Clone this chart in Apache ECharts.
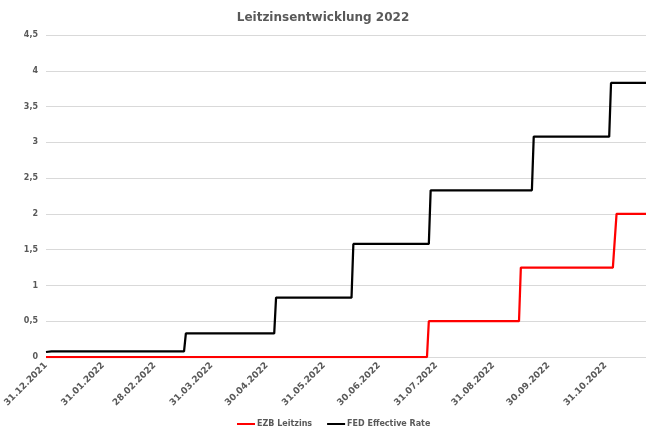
<!DOCTYPE html>
<html>
<head>
<meta charset="utf-8">
<script src="https://cdn.jsdelivr.net/npm/echarts@6/dist/echarts.min.js"></script>
<style>
  html, body { margin: 0; padding: 0; background: #fff; }
  #chart { width: 646px; height: 428px; }
</style>
</head>
<body>
<div id="chart"></div>
<script>
// Leitzinsen 2022 - Stufen als Punktpaare (Tag vor / Tag nach der Änderung)
var fedDates = ['2021-12-31', '2022-01-03', '2022-03-16', '2022-03-17', '2022-05-04', '2022-05-05',
                '2022-06-15', '2022-06-16', '2022-07-27', '2022-07-28', '2022-09-21', '2022-09-22',
                '2022-11-02', '2022-11-03', '2022-11-22'];
var fedValues = [0.07, 0.08, 0.08, 0.33, 0.33, 0.83, 0.83, 1.58, 1.58, 2.33, 2.33, 3.08, 3.08, 3.83, 3.83];

var ezbDates = ['2021-12-31', '2022-07-26', '2022-07-27', '2022-09-14', '2022-09-15',
                '2022-11-04', '2022-11-06', '2022-11-22'];
var ezbValues = [0, 0, 0.5, 0.5, 1.25, 1.25, 2, 2];

var tickDates = ['2021-12-31', '2022-01-31', '2022-02-28', '2022-03-31', '2022-04-30', '2022-05-31',
                 '2022-06-30', '2022-07-31', '2022-08-31', '2022-09-30', '2022-10-31'];

var axisStart = '2021-12-31';
var axisEnd = '2022-11-22';

function toTime(s) {
    var p = s.split('-');
    return new Date(+p[0], +p[1] - 1, +p[2]).getTime();
}
function pairs(dates, values) {
    return dates.map(function (d, i) { return [toTime(d), values[i]]; });
}
function pad(n) { return n < 10 ? '0' + n : '' + n; }

var grey = '#595959';
var myChart = echarts.init(document.getElementById('chart'));

var option = {
    animation: false,
    title: {
        text: 'Leitzinsentwicklung 2022',
        left: 'center',
        top: 7,
        textStyle: {
            fontFamily: 'DejaVu Sans',
            fontSize: 12,
            fontWeight: 'bold',
            color: grey
        }
    },
    grid: {
        left: 46,
        right: 0,
        top: 35,
        bottom: 71,
        containLabel: false
    },
    legend: {
        top: 415,
        left: 232,
        itemWidth: 18,
        itemHeight: 10,
        itemGap: 15,
        icon: 'path://M0,4 L18,4 L18,6 L0,6 Z',
        textStyle: {
            fontFamily: 'DejaVu Sans',
            fontSize: 8,
            fontWeight: 'bold',
            color: grey,
            padding: [0, 0, 0, -3]
        },
        data: ['EZB Leitzins', 'FED Effective Rate']
    },
    xAxis: {
        type: 'value',
        min: toTime(axisStart),
        max: toTime(axisEnd),
        axisLine: { show: false },
        axisTick: { show: false },
        splitLine: { show: false },
        axisLabel: {
            customValues: tickDates.map(toTime),
            rotate: 45,
            margin: 7,
            fontFamily: 'DejaVu Sans',
            fontSize: 9,
            fontWeight: 'bold',
            color: grey,
            formatter: function (value) {
                var d = new Date(value);
                return pad(d.getDate()) + '.' + pad(d.getMonth() + 1) + '.' + d.getFullYear();
            }
        }
    },
    yAxis: {
        type: 'value',
        min: 0,
        max: 4.5,
        interval: 0.5,
        axisLine: { show: false },
        axisTick: { show: false },
        splitLine: { lineStyle: { color: '#d9d9d9', width: 1 } },
        axisLabel: {
            margin: 8,
            fontFamily: 'DejaVu Sans',
            fontSize: 8,
            fontWeight: 'bold',
            color: grey,
            formatter: function (v) { return String(v).replace('.', ','); }
        }
    },
    series: [
        {
            name: 'EZB Leitzins',
            type: 'line',
            symbol: 'none',
            color: '#ff0000',
            lineStyle: { width: 2.25, color: '#ff0000' },
            data: pairs(ezbDates, ezbValues)
        },
        {
            name: 'FED Effective Rate',
            type: 'line',
            symbol: 'none',
            color: '#000000',
            lineStyle: { width: 2.25, color: '#000000' },
            data: pairs(fedDates, fedValues)
        }
    ]
};

myChart.setOption(option);
</script>
</body>
</html>
